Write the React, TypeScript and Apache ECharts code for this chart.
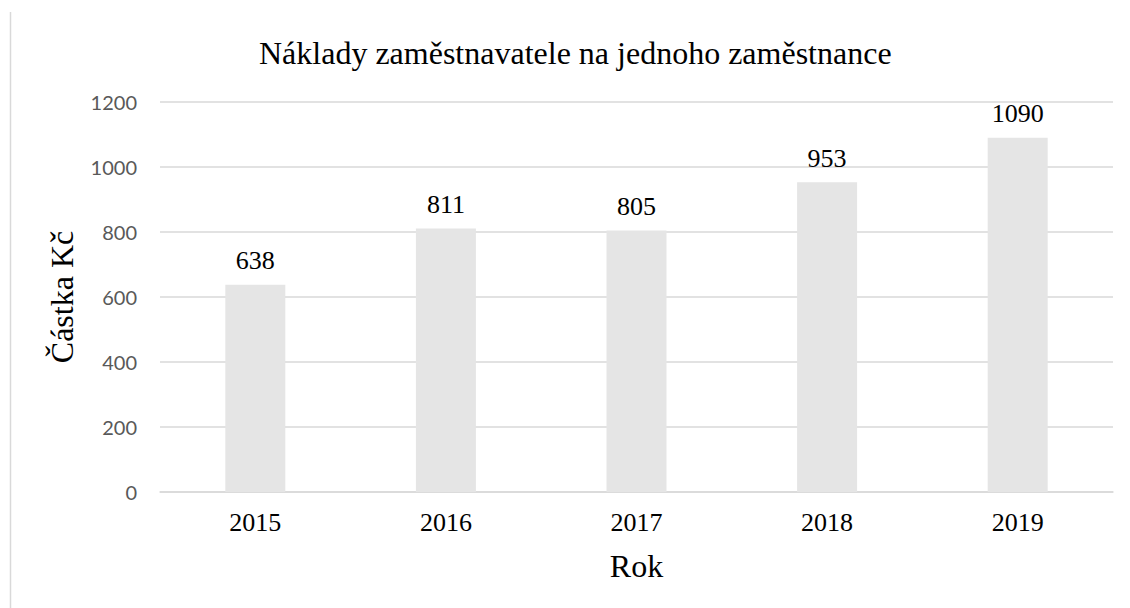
import React, { useEffect, useRef } from "react";
import * as echarts from "echarts";

const categories = ["2015", "2016", "2017", "2018", "2019"];
const values = [638, 811, 805, 953, 1090];
const titleText = "Náklady zaměstnavatele na jednoho zaměstnance";
const yAxisName = "Částka Kč";
const xAxisName = "Rok";

const SERIF = "'Liberation Serif', 'Times New Roman', serif";
const SANS = "Lato, 'Open Sans', sans-serif";

export default function App() {
  const ref = useRef<HTMLDivElement>(null);
  useEffect(() => {
    document.body.style.margin = "0";
    const chart = echarts.init(ref.current!, undefined, { renderer: "svg" });
    chart.setOption({
      animation: false,
      backgroundColor: "#ffffff",
      title: {
        text: titleText,
        left: 254,
        top: 32,
        textStyle: { fontFamily: SERIF, fontSize: 32, fontWeight: "normal", color: "#000000" },
      },
      grid: { left: 160, right: 17, top: 102, bottom: 116 },
      xAxis: {
        type: "category",
        data: categories,
        name: xAxisName,
        nameLocation: "middle",
        nameGap: 58,
        nameTextStyle: { fontFamily: SERIF, fontSize: 32, color: "#000000" },
        axisLine: { show: true, lineStyle: { color: "#d9d9d9", width: 1.5 } },
        axisTick: { show: false },
        axisLabel: { fontFamily: SERIF, fontSize: 26, color: "#000000", margin: 17 },
      },
      yAxis: {
        type: "value",
        min: 0,
        max: 1200,
        interval: 200,
        name: yAxisName,
        nameLocation: "middle",
        nameGap: 82,
        nameRotate: 90,
        nameTextStyle: { fontFamily: SERIF, fontSize: 32, color: "#000000" },
        axisLine: { show: false },
        axisTick: { show: false },
        axisLabel: {
          fontFamily: SANS,
          fontSize: 20,
          color: "#595959",
          margin: 23,
          formatter: (v: number) => String(v),
        },
        splitLine: { lineStyle: { color: "#d9d9d9", width: 1.5 } },
      },
      series: [
        {
          type: "bar",
          data: values,
          barWidth: 60,
          itemStyle: { color: "#e5e5e5" },
          label: {
            show: true,
            position: "top",
            distance: 11,
            fontFamily: SERIF,
            fontSize: 26,
            color: "#000000",
          },
        },
      ],
      graphic: [
        {
          type: "line",
          shape: { x1: 10.5, y1: 12, x2: 10.5, y2: 608 },
          style: { stroke: "#d9d9d9", lineWidth: 1.5 },
        },
      ],
    });
    return () => chart.dispose();
  }, []);
  return <div ref={ref} style={{ width: 1130, height: 608 }} />;
}
